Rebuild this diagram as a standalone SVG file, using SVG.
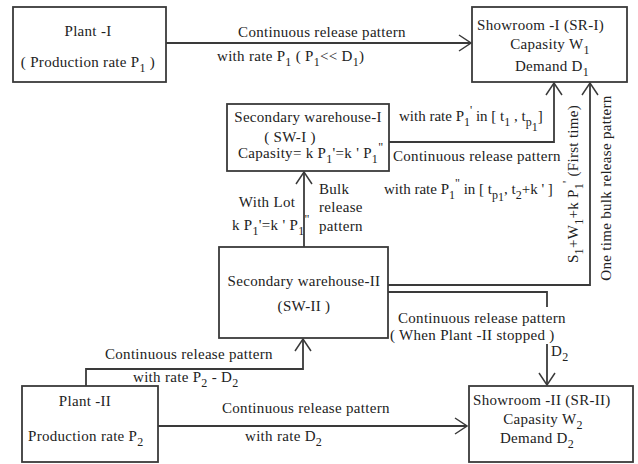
<svg xmlns="http://www.w3.org/2000/svg" width="638" height="464" viewBox="0 0 638 464">
<defs>
<marker id="arr" viewBox="-13 -9 14 18" refX="0" refY="0" markerWidth="14" markerHeight="18" markerUnits="userSpaceOnUse" orient="auto">
<path d="M-12,-8 L0,0 L-12,8" fill="none" stroke="#3a3a3a" stroke-width="1.5"/>
</marker>
</defs>
<style>
rect{fill:#fff;stroke:#3a3a3a;stroke-width:1.8}
.c{fill:none;stroke:#3a3a3a;stroke-width:1.8}
text{font-family:"Liberation Serif","Times New Roman",serif;font-size:15px;letter-spacing:0.3px;fill:#222}
.m{text-anchor:middle}
.s{font-size:12px}
.n{font-size:15px}
.t{letter-spacing:0}
</style>
<rect x="0" y="0" width="638" height="464" style="stroke:none"/>
<g id="connectors">
<path class="c" d="M166,43 H471" marker-end="url(#arr)"/>
<path class="c" d="M389,142 H554 V83" marker-end="url(#arr)"/>
<path class="c" d="M388,285 H590 V83" marker-end="url(#arr)"/>
<path class="c" d="M388,292 H547 V307"/>
<path class="c" d="M547,344 V385" marker-end="url(#arr)"/>
<path class="c" d="M304,247 V172" marker-end="url(#arr)"/>
<path class="c" d="M86,386 V369 H303 V339" marker-end="url(#arr)"/>
<path class="c" d="M158,426 H467" marker-end="url(#arr)"/>
<text class="m" x="322" y="37">Continuous release pattern</text>
<text x="217" y="61">with rate  P<tspan class="s" dy="5">1</tspan><tspan dy="-5">  ( P</tspan><tspan class="s" dy="5">1</tspan><tspan dy="-5">&lt;&lt; D</tspan><tspan class="s" dy="5">1</tspan><tspan dy="-5">)</tspan></text>
<text x="399" y="121" class="t">with rate  P<tspan class="s" dy="5">1</tspan><tspan class="s" dy="-12">'</tspan><tspan dy="7"> in [ t</tspan><tspan class="s" dy="5">1</tspan><tspan dy="-5"> , t</tspan><tspan class="s" dy="5">p</tspan><tspan class="s" dy="5">1</tspan><tspan dy="-10">]</tspan></text>
<text x="393" y="161">Continuous release pattern</text>
<text x="384" y="194" class="t">with rate P<tspan class="s" dy="5">1</tspan><tspan class="s" dy="-12">"</tspan><tspan dy="7"> in [ t</tspan><tspan class="s" dy="5">p</tspan><tspan class="s" dy="2">1</tspan><tspan dy="-7">, t</tspan><tspan class="s" dy="5">2</tspan><tspan dy="-5">+k ' ]</tspan></text>
<text class="m" x="267" y="207">With Lot</text>
<text x="232" y="230">k P<tspan class="s" dy="5">1</tspan><tspan dy="-5">'=k ' P</tspan><tspan class="s" dy="5">1</tspan><tspan class="s" dy="-12">"</tspan></text>
<text x="319" y="194">Bulk</text>
<text x="319" y="212">release</text>
<text x="319" y="231">pattern</text>
<text transform="translate(578,184) rotate(-90)" class="m">S<tspan class="s" dy="5">1</tspan><tspan dy="-5">+W</tspan><tspan class="s" dy="5">1</tspan><tspan dy="-5">+k P</tspan><tspan class="s" dy="5">1</tspan><tspan class="s" dy="-12">'</tspan><tspan class="n" dy="7"> (First time)</tspan></text>
<text transform="translate(611,188) rotate(-90)" class="m">One time bulk release pattern</text>
<text x="398" y="323">Continuous release pattern</text>
<text x="390" y="340">( When Plant -II  stopped )</text>
<text x="551" y="356">D<tspan class="s" dy="5">2</tspan></text>
<text x="105" y="359">Continuous release pattern</text>
<text x="133" y="382">with rate  P<tspan class="s" dy="5">2</tspan><tspan dy="-5"> - D</tspan><tspan class="s" dy="5">2</tspan></text>
<text x="222" y="413">Continuous release pattern</text>
<text x="245" y="441">with rate  D<tspan class="s" dy="5">2</tspan></text>
</g>
<g id="plant1">
<rect x="13" y="7" width="153" height="75"/>
<text class="m" x="88" y="36">Plant -I</text>
<text class="m" x="88" y="67">( Production rate P<tspan class="s" dy="5">1</tspan><tspan dy="-5"> )</tspan></text>
</g>
<g id="showroom1">
<rect x="472" y="7" width="155" height="75"/>
<text x="477" y="30">Showroom -I  (SR-I)</text>
<text class="m" x="550" y="49">Capasity W<tspan class="s" dy="5">1</tspan></text>
<text class="m" x="552" y="71">Demand  D<tspan class="s" dy="5">1</tspan></text>
</g>
<g id="sw1">
<rect x="227" y="104" width="162" height="67"/>
<text class="m" x="308" y="122">Secondary warehouse-I</text>
<text class="m" x="290" y="142">( SW-I )</text>
<text x="238" y="158">Capasity= k P<tspan class="s" dy="5">1</tspan><tspan dy="-5">'=k ' P</tspan><tspan class="s" dy="5">1</tspan><tspan class="s" dy="-12">"</tspan></text>
</g>
<g id="sw2">
<rect x="219" y="247" width="169" height="91"/>
<text class="m" x="304" y="286">Secondary warehouse-II</text>
<text class="m" x="304" y="311">(SW-II )</text>
</g>
<g id="plant2">
<rect x="22" y="386" width="136" height="76"/>
<text class="m" x="85" y="406">Plant -II</text>
<text x="28" y="441">Production rate   P<tspan class="s" dy="5">2</tspan></text>
</g>
<g id="showroom2">
<rect x="469" y="386" width="164" height="76"/>
<text x="473" y="405">Showroom -II  (SR-II)</text>
<text class="m" x="543" y="424">Capasity W<tspan class="s" dy="5">2</tspan></text>
<text class="m" x="537" y="443">Demand  D<tspan class="s" dy="5">2</tspan></text>
</g>
</svg>
